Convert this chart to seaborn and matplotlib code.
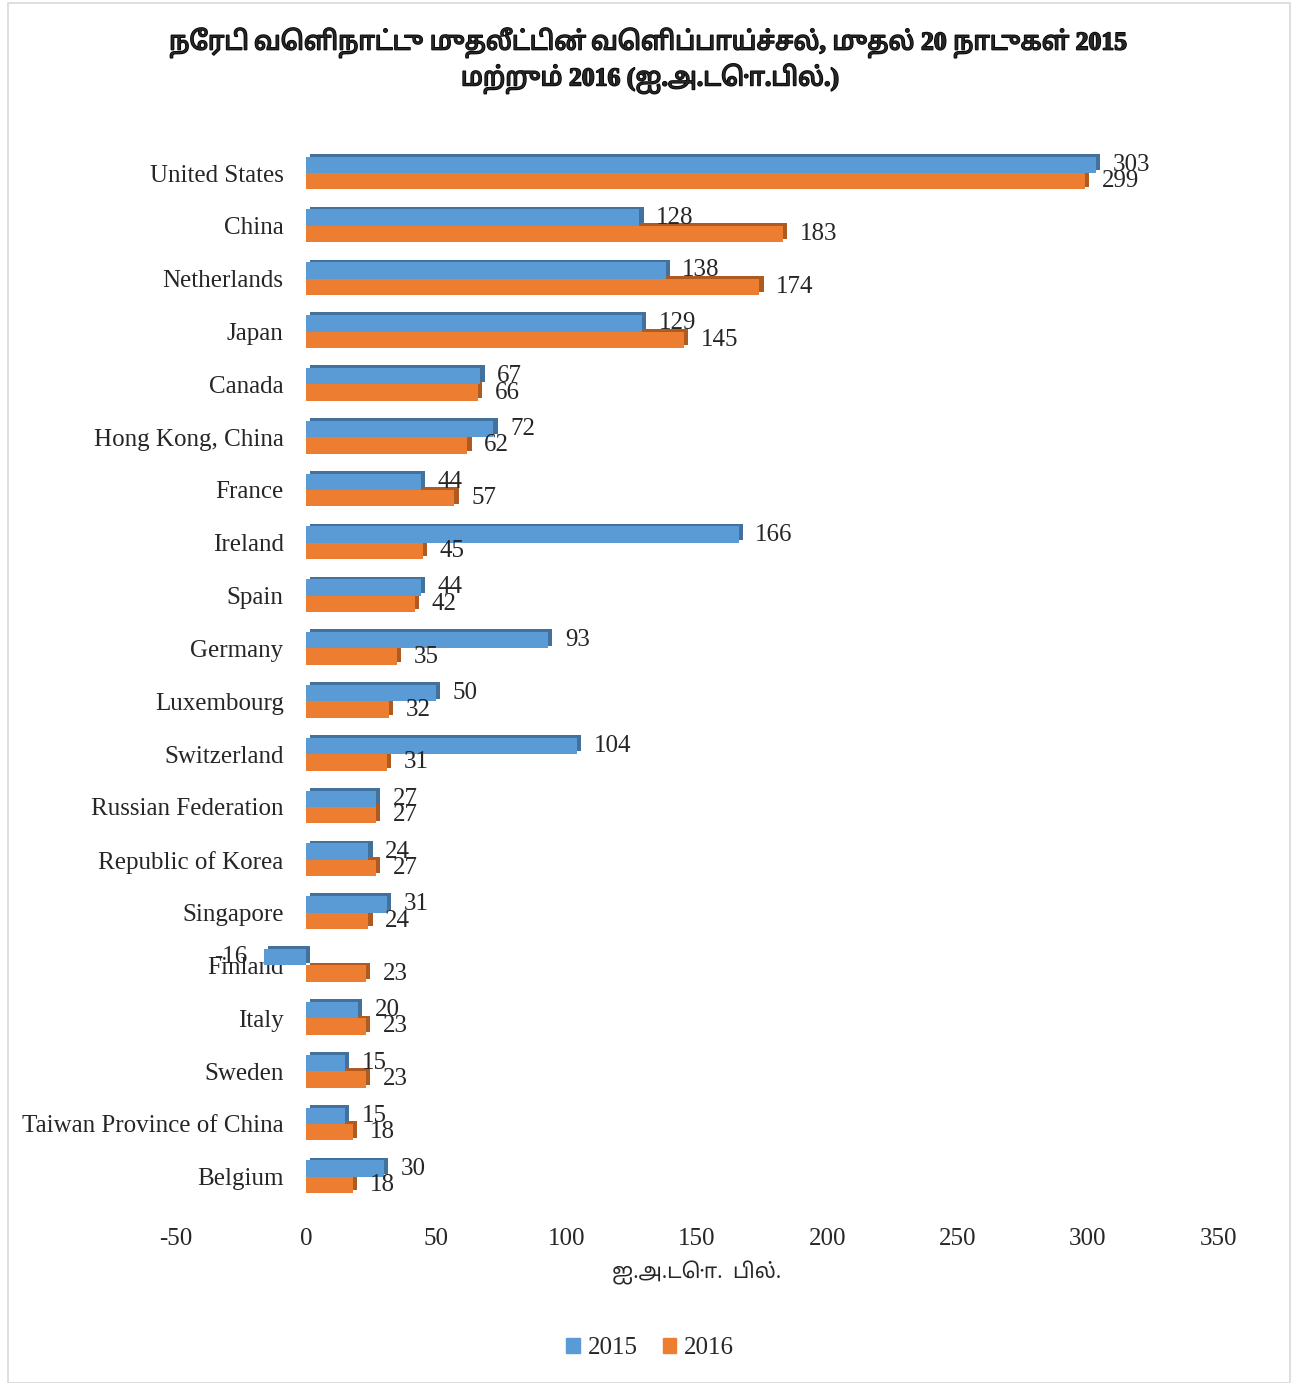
import matplotlib
matplotlib.use('Agg')
import matplotlib.pyplot as plt
import matplotlib.patheffects as pe
from matplotlib.patches import Rectangle
import pandas as pd
import seaborn as sns

##Data
countries = ['United States', 'China', 'Netherlands', 'Japan', 'Canada',
             'Hong Kong, China', 'France', 'Ireland', 'Spain', 'Germany',
             'Luxembourg', 'Switzerland', 'Russian Federation', 'Republic of Korea',
             'Singapore', 'Finland', 'Italy', 'Sweden', 'Taiwan Province of China',
             'Belgium']
v2015 = [303, 128, 138, 129, 67, 72, 44, 166, 44, 93, 50, 104, 27, 24, 31, -16, 20, 15, 15, 30]
v2016 = [299, 183, 174, 145, 66, 62, 57, 45, 42, 35, 32, 31, 27, 27, 24, 23, 23, 23, 18, 18]
years = ['2015', '2016']
x_ticks = [-50, 0, 50, 100, 150, 200, 250, 300, 350]

title = 'நேரடி வெளிநாட்டு முதலீட்டின் வெளிப்பாய்ச்சல், முதல் 20 நாடுகள் 2015\nமற்றும் 2016 (ஐ.அ.டொ.பில்.)'
x_label = 'ஐ.அ.டொ.  பில்.'

df = pd.DataFrame({
    'country': countries * 2,
    'value': v2015 + v2016,
    'year': [years[0]] * len(countries) + [years[1]] * len(countries),
})

sns.set_style('white')
serif = ['Liberation Serif', 'DejaVu Serif']
fam = ['Liberation Serif', 'Noto Sans Tamil', 'DejaVu Sans']
plt.rcParams['font.family'] = serif

blue = '#5B9BD5'
orange = '#ED7D31'

fig = plt.figure(figsize=(13, 13.83), dpi=100)
ax = fig.add_axes([0.135, 0.130, 0.802, 0.764])

sns.barplot(data=df, y='country', x='value', hue='year', orient='h',
            palette=[blue, orange], width=0.62, ax=ax, legend=False,
            saturation=1, linewidth=0)

# fake 3d: darker face up and to the right, 2015 bar on top of 2016 bar
shades = ['#41719C', '#AE5A21']
zs = [3, 2]
for cont, sh, z in zip(ax.containers, shades, zs):
    for p in cont:
        p.set_zorder(z)
        p.set_path_effects([pe.SimplePatchShadow(offset=(3, 2), shadow_rgbFace=sh, alpha=1),
                            pe.Normal()])
    labs = ax.bar_label(cont, padding=12, fontsize=18, family=serif)
    for t in labs:
        t.set_zorder(5)

ax.set_xlim(-50, 350)
ax.set_xticks(x_ticks)
ax.set_xticklabels([str(t) for t in x_ticks], fontsize=18)
# category labels sit at the zero line, like the original
ax.spines['left'].set_position(('data', 0))
ax.tick_params(axis='y', labelsize=18, length=0, pad=16)
ax.tick_params(axis='x', length=0, pad=18)
ax.set_ylabel('')
ax.set_xlabel(x_label, fontsize=15, family=fam, labelpad=8)
for s in ax.spines.values():
    s.set_visible(False)

# Tamil font has no bold here, so thicken it with a stroke
st = fig.suptitle(title, fontsize=18.5, fontweight='bold', family=fam, y=0.98,
                  linespacing=1.25)
st.set_path_effects([pe.withStroke(linewidth=1.1, foreground='black')])

# legend
handles = [Rectangle((0, 0), 1, 1, color=c) for c in (blue, orange)]
fig.legend(handles, years, loc='center', bbox_to_anchor=(0.5, 0.025), ncol=2,
           frameon=False, fontsize=18, handlelength=0.55, handleheight=0.55,
           handletextpad=0.3, columnspacing=1.0)

fig.patches.append(Rectangle((0.006, 0.0), 0.986, 0.998, transform=fig.transFigure,
                             fill=False, edgecolor='#D9D9D9', linewidth=1.2))

fig.savefig('out.png', dpi=100)
